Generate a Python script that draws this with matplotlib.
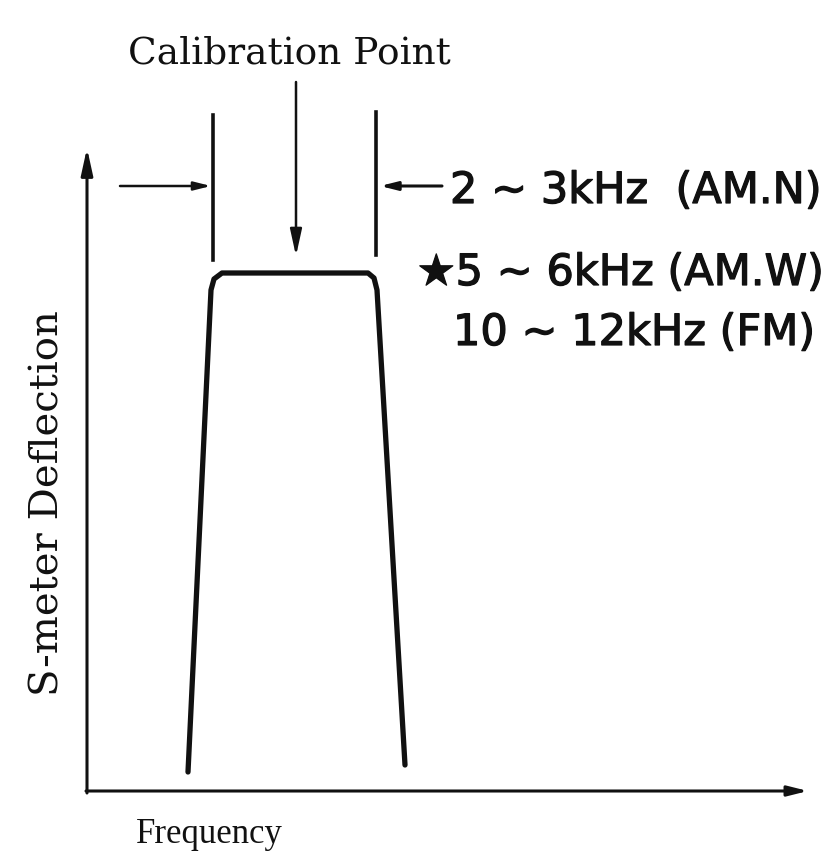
import matplotlib
matplotlib.use("Agg")
import matplotlib.pyplot as plt
import matplotlib.patheffects as pe

# Schematic filter passband (frequency, S-meter deflection) in drawing units
passband_freq = [188, 211, 214, 222, 368, 374, 377, 405]
passband_level = [772, 290, 279, 273, 273, 278, 290, 765]

bandwidth_labels = ["2 ∼ 3kHz  (AM.N)", "★5 ∼ 6kHz (AM.W)", "10 ∼ 12kHz (FM)"]
title_text = "Calibration Point"
xlabel_text = "Frequency"
ylabel_text = "S-meter Deflection"

fig = plt.figure(figsize=(8.38, 8.56), dpi=100)
ax = fig.add_axes([0, 0, 1, 1])
ax.set_xlim(0, 838)
ax.set_ylim(856, 0)
ax.axis("off")

ink = "#111111"
heavy = [pe.withStroke(linewidth=0.9, foreground=ink)]

# Axes with arrows
ax.annotate("", xy=(87, 148), xytext=(87, 793),
            arrowprops=dict(arrowstyle="-|>,head_length=1.6,head_width=0.35",
                            lw=2.2, color=ink, shrinkA=0, shrinkB=0))
ax.annotate("", xy=(808, 791), xytext=(86, 791),
            arrowprops=dict(arrowstyle="-|>,head_length=1.2,head_width=0.3",
                            lw=2.2, color=ink, shrinkA=0, shrinkB=0))

# Passband curve
ax.plot(passband_freq, passband_level, color=ink, lw=3.8,
        solid_joinstyle="round", solid_capstyle="round")

# Bandwidth marker lines
ax.plot([213, 213], [115, 260], color=ink, lw=2.6)
ax.plot([376, 376], [112, 255], color=ink, lw=2.6)

# Bandwidth arrows
ax.annotate("", xy=(211, 186), xytext=(120, 186),
            arrowprops=dict(arrowstyle="-|>,head_length=1.0,head_width=0.25",
                            lw=1.8, color=ink, shrinkA=0, shrinkB=0))
ax.annotate("", xy=(380, 186), xytext=(442, 186),
            arrowprops=dict(arrowstyle="-|>,head_length=1.0,head_width=0.25",
                            lw=2.2, color=ink, shrinkA=0, shrinkB=0))

# Calibration arrow
ax.annotate("", xy=(296, 256), xytext=(296, 82),
            arrowprops=dict(arrowstyle="-|>,head_length=1.6,head_width=0.35",
                            lw=1.8, color=ink, shrinkA=0, shrinkB=0))

# Texts
ax.text(289, 63, title_text, family="DejaVu Serif", fontsize=27,
        ha="center", va="baseline", color=ink)
ax.text(209, 843, xlabel_text, family="Liberation Serif", fontsize=25,
        ha="center", va="baseline", color=ink)
ax.text(48, 503, ylabel_text, family="DejaVu Serif", fontsize=29,
        ha="center", va="center", rotation=90, color=ink)

ax.text(450, 203, bandwidth_labels[0], family="DejaVu Sans", fontsize=31,
        ha="left", va="baseline", color=ink, path_effects=heavy)
ax.text(417, 285, bandwidth_labels[1], family="DejaVu Sans", fontsize=31,
        ha="left", va="baseline", color=ink, path_effects=heavy)
ax.text(453, 345, bandwidth_labels[2], family="DejaVu Sans", fontsize=31,
        ha="left", va="baseline", color=ink, path_effects=heavy)

fig.savefig("out.png", dpi=100)
